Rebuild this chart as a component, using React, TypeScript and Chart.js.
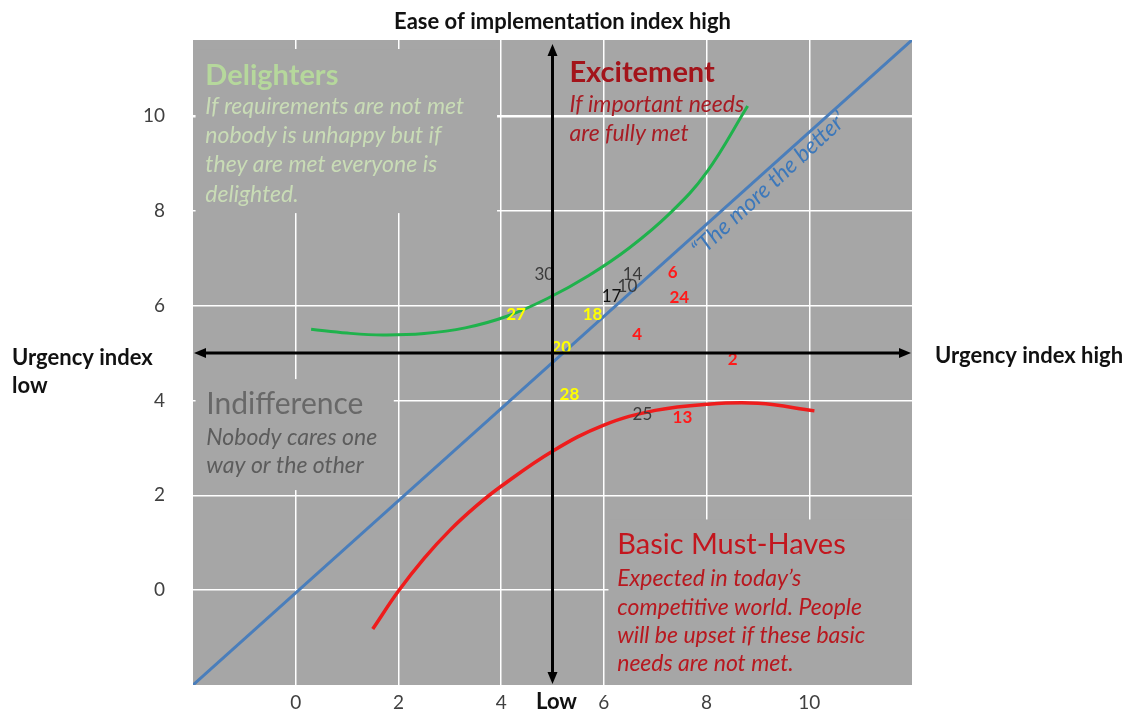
import React, { useEffect, useRef } from "react";
import { Chart, registerables } from "chart.js";

Chart.register(...registerables);

// ---- axes ----
const X_TICKS = [0, 2, 4, 6, 8, 10];
const Y_TICKS = [0, 2, 4, 6, 8, 10];
const X_MIN = -2;
const X_MAX = 12;
const Y_MIN = -2;
const Y_MAX = 11.6;
const AXIS_CROSS_X = 5;
const AXIS_CROSS_Y = 5;

// ---- curves ----
const DIAG_X = [-2, 12];
const DIAG_Y = [-2, 11.6];

const GREEN_X = [0.3, 1, 1.7, 2.5, 3.3, 4.1, 4.9, 5.7, 6.5, 7.3, 8.0, 8.8];
const GREEN_Y = [5.5, 5.42, 5.38, 5.41, 5.53, 5.77, 6.15, 6.63, 7.22, 7.96, 8.81, 10.21];

const RED_X = [1.5, 2, 2.5, 3, 3.5, 4, 5, 6, 7, 8, 9, 10.1];
const RED_Y = [-0.82, -0.02, 0.67, 1.26, 1.76, 2.19, 2.93, 3.48, 3.79, 3.92, 3.94, 3.78];

// ---- requirement ids ----
const ID_LABELS = ["30", "14", "10", "17", "6", "24", "27", "18", "4", "20", "2", "28", "25", "13"];
const ID_X = [4.84, 6.56, 6.46, 6.15, 7.34, 7.47, 4.29, 5.78, 6.65, 5.17, 8.51, 5.33, 6.75, 7.53];
const ID_Y = [6.66, 6.66, 6.41, 6.2, 6.69, 6.18, 5.82, 5.82, 5.4, 5.11, 4.87, 4.13, 3.71, 3.63];
const ID_GROUP = ["dark", "dark", "dark", "black", "red", "red", "yellow", "yellow", "red", "yellow", "red", "yellow", "dark", "red"];

// ---- quadrant texts ----
const DELIGHT_TITLE = "Delighters";
const DELIGHT_LINES = ["If requirements are not met", "nobody is unhappy but if", "they are met everyone is", "delighted."];
const EXCITE_TITLE = "Excitement";
const EXCITE_LINES = ["If important needs", "are fully met"];
const INDIFF_TITLE = "Indifference";
const INDIFF_LINES = ["Nobody cares one", "way or the other"];
const BASIC_TITLE = "Basic Must-Haves";
const BASIC_LINES = ["Expected in today\u2019s", "competitive world. People", "will be upset if these basic", "needs are not met."];
const DIAG_TEXT = "\u201CThe more the better\u2019";

const TOP_LABEL = "Ease of implementation index high";
const RIGHT_LABEL = "Urgency index high";
const LEFT_LABEL = ["Urgency index", "low"];
const BOTTOM_LABEL = "Low";

const FONT = 'Lato, "Open Sans", sans-serif';
const BG = "#a6a6a6";

const GROUP_COLORS: Record<string, string> = {
  dark: "#3a3a3a",
  black: "#111111",
  red: "#ff1a1a",
  yellow: "#ffff00",
};

const toPts = (xs: number[], ys: number[]) => xs.map((x, i) => ({ x, y: ys[i] }));

export default function App() {
  const ref = useRef<HTMLCanvasElement | null>(null);

  useEffect(() => {
    const canvas = ref.current;
    if (!canvas) return;

    const decor = {
      id: "decor",
      beforeDraw(chart: any) {
        const { ctx, chartArea: a } = chart;
        ctx.save();
        ctx.fillStyle = BG;
        ctx.fillRect(a.left, a.top, a.right - a.left, a.bottom - a.top);
        ctx.restore();
      },
      beforeDatasetsDraw(chart: any) {
        const { ctx, scales } = chart;
        const xs = scales.x;
        const ys = scales.y;
        const boxes = [
          [-1.95, 11.41, 3.92, 7.95],
          [-1.95, 4.45, 1.91, 2.11],
          [6.09, 1.49, 12, -2],
        ];
        ctx.save();
        ctx.fillStyle = BG;
        boxes.forEach(([x0, y0, x1, y1]) => {
          const px0 = xs.getPixelForValue(x0);
          const px1 = xs.getPixelForValue(x1);
          const py0 = ys.getPixelForValue(y0);
          const py1 = ys.getPixelForValue(y1);
          ctx.fillRect(px0, py0, px1 - px0, py1 - py0);
        });
        ctx.restore();
      },
      afterDatasetsDraw(chart: any) {
        const { ctx, scales, chartArea: a } = chart;
        const xs = scales.x;
        const ys = scales.y;
        const X = (v: number) => xs.getPixelForValue(v);
        const Y = (v: number) => ys.getPixelForValue(v);
        ctx.save();

        const block = (
          x: number,
          yTitle: number,
          yLines: number[],
          title: string,
          lines: string[],
          titleFont: string,
          titleColor: string,
          lineFont: string,
          lineColor: string
        ) => {
          ctx.textAlign = "left";
          ctx.textBaseline = "middle";
          ctx.font = titleFont;
          ctx.fillStyle = titleColor;
          ctx.fillText(title, X(x), Y(yTitle));
          ctx.font = lineFont;
          ctx.fillStyle = lineColor;
          lines.forEach((l, i) => ctx.fillText(l, X(x), Y(yLines[i])));
        };

        block(-1.76, 10.84, [10.19, 9.58, 8.97, 8.35], DELIGHT_TITLE, DELIGHT_LINES,
          `bold 29px ${FONT}`, "#b6d89c", `italic 23px ${FONT}`, "#c9dcb6");
        block(5.33, 10.91, [10.23, 9.62], EXCITE_TITLE, EXCITE_LINES,
          `bold 29px ${FONT}`, "#a3141b", `italic 23px ${FONT}`, "#a81c24");
        block(-1.74, 3.92, [3.21, 2.62], INDIFF_TITLE, INDIFF_LINES,
          `30px ${FONT}`, "#686868", `italic 23px ${FONT}`, "#5c5c5c");
        block(6.26, 0.97, [0.25, -0.36, -0.95, -1.54], BASIC_TITLE, BASIC_LINES,
          `29px ${FONT}`, "#c3161e", `italic 23px ${FONT}`, "#b8181f");

        // diagonal label
        const ang = Math.atan2(Y(11) - Y(0), X(11) - X(0));
        ctx.save();
        ctx.translate(X(9.22), Y(8.55));
        ctx.rotate(ang);
        ctx.font = `italic 23px ${FONT}`;
        ctx.fillStyle = "#3d78ba";
        ctx.textAlign = "center";
        ctx.textBaseline = "middle";
        ctx.fillText(DIAG_TEXT, 0, 0);
        ctx.restore();

        // id labels
        const meta = chart.getDatasetMeta(3);
        meta.data.forEach((el: any, i: number) => {
          const g = ID_GROUP[i];
          ctx.font = g === "dark" || g === "black" ? `17px ${FONT}` : `bold 17px ${FONT}`;
          ctx.fillStyle = GROUP_COLORS[g];
          ctx.textAlign = "center";
          ctx.textBaseline = "middle";
          ctx.fillText(ID_LABELS[i], el.x, el.y);
        });

        // black axes with arrows
        const arrow = (x0: number, y0: number, x1: number, y1: number) => {
          const ang2 = Math.atan2(y1 - y0, x1 - x0);
          const L = 12;
          const W = 5;
          ctx.beginPath();
          ctx.moveTo(x1, y1);
          ctx.lineTo(x1 - L * Math.cos(ang2) + W * Math.sin(ang2), y1 - L * Math.sin(ang2) - W * Math.cos(ang2));
          ctx.lineTo(x1 - L * Math.cos(ang2) - W * Math.sin(ang2), y1 - L * Math.sin(ang2) + W * Math.cos(ang2));
          ctx.closePath();
          ctx.fill();
        };
        ctx.strokeStyle = "#000";
        ctx.fillStyle = "#000";
        ctx.lineWidth = 3;
        const hy = Y(AXIS_CROSS_Y);
        const vx = X(AXIS_CROSS_X);
        ctx.beginPath();
        ctx.moveTo(a.left + 10, hy);
        ctx.lineTo(a.right - 10, hy);
        ctx.moveTo(vx, a.top + 14);
        ctx.lineTo(vx, a.bottom - 10);
        ctx.stroke();
        arrow(a.left + 14, hy, a.left + 1, hy);
        arrow(a.right - 14, hy, a.right - 1, hy);
        arrow(vx, a.top + 20, vx, a.top + 4);
        arrow(vx, a.bottom - 14, vx, a.bottom - 1);

        // outer labels
        ctx.fillStyle = "#111";
        ctx.font = `bold 22px ${FONT}`;
        ctx.textBaseline = "middle";
        ctx.textAlign = "center";
        ctx.fillText(TOP_LABEL, vx + 10, 22);
        ctx.fillText(BOTTOM_LABEL, vx + 4, 702);
        ctx.textAlign = "left";
        ctx.fillText(RIGHT_LABEL, a.right + 23, hy + 3);
        ctx.fillText(LEFT_LABEL[0], 12, hy + 5);
        ctx.fillText(LEFT_LABEL[1], 12, hy + 33);
        ctx.restore();
      },
    };

    const chart = new Chart(canvas, {
      type: "scatter",
      data: {
        datasets: [
          {
            label: "The more the better",
            data: toPts(DIAG_X, DIAG_Y),
            showLine: true,
            borderColor: "#4a7ebb",
            borderWidth: 3,
            pointRadius: 0,
          },
          {
            label: "Delighters",
            data: toPts(GREEN_X, GREEN_Y),
            showLine: true,
            borderColor: "#1fb24c",
            borderWidth: 3,
            pointRadius: 0,
            tension: 0.4,
          },
          {
            label: "Basic",
            data: toPts(RED_X, RED_Y),
            showLine: true,
            borderColor: "#ee1c1c",
            borderWidth: 3.5,
            pointRadius: 0,
            tension: 0.4,
          },
          {
            label: "Requirements",
            data: toPts(ID_X, ID_Y),
            showLine: false,
            pointRadius: 0,
          },
        ],
      },
      options: {
        responsive: false,
        animation: false,
        layout: { padding: { top: 40, right: 212, bottom: 0, left: 0 } },
        plugins: { legend: { display: false }, tooltip: { enabled: false } },
        scales: {
          x: {
            type: "linear",
            min: X_MIN,
            max: X_MAX,
            afterBuildTicks: (s: any) => {
              s.ticks = X_TICKS.map((v) => ({ value: v }));
            },
            afterFit: (s: any) => {
              s.height = 25;
              s.paddingLeft = 0;
              s.paddingRight = 0;
              s.paddingTop = 0;
              s.paddingBottom = 0;
            },
            border: { display: false },
            grid: { color: "#ffffff", lineWidth: 1.5, drawTicks: false },
            ticks: { padding: 6, color: "#404040", font: { family: FONT, size: 19 } },
          },
          y: {
            type: "linear",
            min: Y_MIN,
            max: Y_MAX,
            afterBuildTicks: (s: any) => {
              s.ticks = Y_TICKS.map((v) => ({ value: v }));
            },
            afterFit: (s: any) => {
              s.width = 193;
              s.paddingTop = 0;
              s.paddingBottom = 0;
              s.paddingLeft = 0;
              s.paddingRight = 0;
            },
            border: { display: false },
            grid: {
              color: "#ffffff",
              lineWidth: (c: any) => (c.tick && c.tick.value === 10 ? 2.5 : 1.5),
              drawTicks: false,
            },
            ticks: { padding: 28, color: "#404040", font: { family: FONT, size: 19 } },
          },
        },
      },
      plugins: [decor],
    } as any);

    return () => chart.destroy();
  }, []);

  return (
    <div style={{ position: "fixed", left: 0, top: 0, width: 1124, height: 710, background: "#fff" }}>
      <canvas ref={ref} width={1124} height={710} style={{ width: 1124, height: 710 }} />
    </div>
  );
}
